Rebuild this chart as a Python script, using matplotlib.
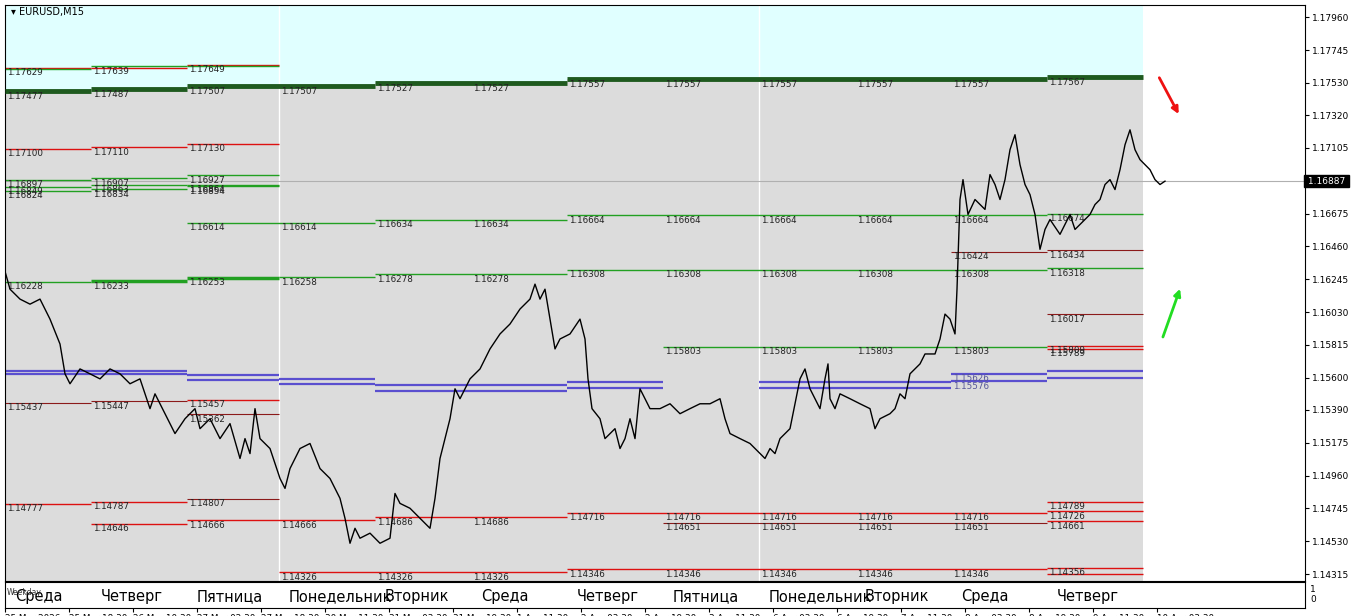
import matplotlib
matplotlib.use("Agg")
import matplotlib.pyplot as plt
from matplotlib.patches import Rectangle, FancyArrowPatch

W, H = 1365, 616
fig = plt.figure(figsize=(W/100, H/100), dpi=100)
fig.patch.set_facecolor("white")

# ---------------- data ----------------
bar_x = [0,5,15,25,35,45,55,60,65,75,85,95,105,115,125,135,145,150,160,170,180,190,195,205,215,225,235,240,245,250,255,265,275,280,285,295,305,315,325,335,340,345,350,355,365,375,385,390,395,405,415,425,430,435,445,450,455,465,475,485,495,505,515,525,530,535,540,545,550,555,565,575,580,583,587,595,600,610,615,620,625,630,635,640,645,655,665,675,685,695,705,715,720,725,735,745,755,760,765,770,775,785,795,800,805,810,815,820,823,825,830,835,845,855,865,870,875,885,890,895,900,905,910,915,920,930,935,940,945,950,952,955,958,963,970,980,985,990,995,1000,1005,1010,1015,1020,1025,1030,1035,1040,1045,1055,1060,1065,1070,1075,1080,1085,1090,1095,1100,1105,1110,1115,1120,1125,1130,1135,1140,1145,1150,1155,1160]
price = [1.16297,1.1618,1.16115,1.16082,1.16115,1.15984,1.15821,1.15626,1.15561,1.15658,1.15626,1.15593,1.15658,1.15626,1.15561,1.15593,1.15398,1.15495,1.15365,1.15235,1.15332,1.15398,1.15267,1.15332,1.15202,1.153,1.15072,1.15202,1.15104,1.15398,1.15202,1.15137,1.14941,1.14876,1.15006,1.15137,1.1517,1.15006,1.14941,1.14811,1.1468,1.14517,1.14615,1.1455,1.14583,1.14517,1.1455,1.14843,1.14778,1.14746,1.1468,1.14615,1.14811,1.15072,1.15332,1.15528,1.15463,1.15593,1.15658,1.15789,1.15887,1.15952,1.1605,1.16115,1.16213,1.16115,1.1618,1.15984,1.15789,1.15854,1.15887,1.15984,1.15854,1.15593,1.15398,1.15332,1.15202,1.15267,1.15137,1.15202,1.15332,1.15202,1.15528,1.15463,1.15398,1.15398,1.1543,1.15365,1.15398,1.1543,1.1543,1.15463,1.15332,1.15235,1.15202,1.1517,1.15104,1.15072,1.15137,1.15104,1.15202,1.15267,1.15593,1.15658,1.15528,1.15463,1.15398,1.15593,1.15691,1.15463,1.15398,1.15495,1.15463,1.1543,1.15398,1.15267,1.15332,1.15365,1.15398,1.15495,1.15463,1.15626,1.15658,1.15691,1.15756,1.15756,1.15854,1.16017,1.15984,1.15887,1.1618,1.16767,1.16897,1.16669,1.16767,1.16702,1.1693,1.16865,1.16767,1.16897,1.17093,1.17191,1.16995,1.16865,1.16799,1.16669,1.16441,1.16571,1.16636,1.16539,1.16604,1.16669,1.16571,1.16604,1.16636,1.16669,1.16734,1.16767,1.16865,1.16897,1.16832,1.16962,1.17125,1.17223,1.17093,1.17028,1.16995,1.16962,1.16897,1.16865,1.16887]

day_bounds = [0,86,182,274,370,466,562,658,754,850,946,1042,1138]
day_names = ["Среда","Четверг","Пятница","Понедельник","Вторник","Среда","Четверг",
             "Пятница","Понедельник","Вторник","Среда","Четверг"]
date_labels = ["25 Mar 2026","25 Mar 18:30","26 Mar 10:30","27 Mar 02:30","27 Mar 18:30",
               "30 Mar 11:30","31 Mar 03:30","31 Mar 19:30","1 Apr 11:30","2 Apr 03:30",
               "2 Apr 19:30","3 Apr 11:30","6 Apr 03:30","6 Apr 19:30","7 Apr 11:30",
               "8 Apr 03:30","8 Apr 19:30","9 Apr 11:30","10 Apr 03:30"]
date_pos = [0,64,128,192,256,320,384,448,512,576,640,704,768,832,896,960,1024,1088,1152]
y_ticks = [1.17960,1.17745,1.17530,1.17320,1.17105,1.16675,1.16460,1.16245,1.16030,
           1.15815,1.15600,1.15390,1.15175,1.14960,1.14745,1.14530,1.14315]
current = 1.16887

# level segments: (first day, last day, price, kind, labelled)
levels = [
    (0,0,1.17629,'r',1),(0,0,1.17623,'g',0),(1,1,1.17639,'g',1),(1,1,1.17629,'r',0),
    (2,2,1.17649,'r',1),(2,2,1.17639,'g',0),
    (0,0,1.17100,'r',1),(1,1,1.17110,'r',1),(2,2,1.17130,'r',1),
    (0,0,1.16897,'g',1),(1,1,1.16907,'g',1),(2,2,1.16927,'g',1),
    (0,0,1.16849,'g',1),(0,0,1.16824,'g',1),(1,1,1.16863,'g',1),(1,1,1.16834,'g',1),
    (2,2,1.16864,'g',1),(2,2,1.16854,'g',1),
    (2,3,1.16614,'g',1),(4,5,1.16634,'g',1),(6,10,1.16664,'g',1),(11,11,1.16674,'g',1),
    (0,0,1.16228,'g',1),(1,1,1.16233,'G',1),(2,2,1.16253,'G',1),(3,3,1.16258,'g',1),
    (4,5,1.16278,'g',1),(6,10,1.16308,'g',1),(11,11,1.16318,'g',1),
    (10,10,1.16424,'d',1),(11,11,1.16434,'d',1),(11,11,1.16017,'d',1),(2,2,1.15362,'d',1),
    (7,10,1.15803,'g',1),(11,11,1.15809,'r',1),(11,11,1.15789,'r',1),
    (0,1,1.15646,'p',0),(0,1,1.15626,'p',0),(2,2,1.15619,'p',0),(2,2,1.15587,'p',0),
    (3,3,1.15593,'p',0),(3,3,1.15561,'p',0),(4,5,1.15554,'p',0),(4,5,1.15515,'p',0),
    (6,6,1.15574,'p',0),(6,6,1.15535,'p',0),(8,9,1.15574,'p',0),(8,9,1.15535,'p',0),
    (10,10,1.15626,'p',1),(10,10,1.15576,'p',1),(11,11,1.15646,'p',0),(11,11,1.15600,'p',0),
    (0,0,1.15437,'d',1),(1,1,1.15447,'d',1),(2,2,1.15457,'r',1),
    (0,0,1.14777,'r',1),(1,1,1.14787,'r',1),(2,2,1.14807,'d',1),
    (11,11,1.14789,'r',1),(11,11,1.14726,'r',1),(11,11,1.14661,'r',1),
    (1,1,1.14646,'r',1),(2,3,1.14666,'r',1),(4,5,1.14686,'r',1),(6,10,1.14716,'r',1),
    (7,10,1.14651,'d',1),
    (3,5,1.14326,'r',1),(6,10,1.14346,'r',1),(11,11,1.14356,'r',1),(11,11,1.14316,'r',0),
]
top_lines = [(0,0,1.17477),(1,1,1.17487),(2,3,1.17507),(4,5,1.17527),(6,10,1.17557),(11,11,1.17567)]

styles = {'r':('#dd1111',1.0),'g':('#22a022',1.0),'G':('#22a022',2.5),
          'd':('#8b1a1a',0.8),'p':('#5a4fcf',1.6)}

# ---------------- main axes ----------------
ymin, ymax = 1.14270, 1.18040
ax = fig.add_axes([5/W, 1-581/H, 1300/W, 576/H])
ax.set_xlim(0, 1300)
ax.set_ylim(ymin, ymax)
ax.set_facecolor("white")

for d0, d1, p in top_lines:
    x0, x1 = day_bounds[d0], day_bounds[d1+1]
    ax.add_patch(Rectangle((x0, p), x1-x0, ymax-p, color='#e0ffff', lw=0, zorder=0))
    ax.add_patch(Rectangle((x0, ymin), x1-x0, p-ymin, color='#dcdcdc', lw=0, zorder=0))
    ax.plot([x0, x1], [p, p], color='#1f5a1f', lw=3.5, zorder=3, solid_capstyle='butt')
    for d in range(d0, d1+1):
        ax.text(day_bounds[d]+2, p-0.00006, f"{p:.5f}", fontsize=6.3, va='top', color='#222', zorder=4)

for xv in [274, 754]:
    ax.axvline(xv, color='white', lw=1, zorder=1)
ax.axhline(current, color='#b0b0b0', lw=0.8, zorder=1)

for d0, d1, p, k, lab in levels:
    c, lw = styles[k]
    x0, x1 = day_bounds[d0], day_bounds[d1+1]
    ax.plot([x0, x1], [p, p], color=c, lw=lw, zorder=2, solid_capstyle='butt')
    if lab:
        for d in range(d0, d1+1):
            ax.text(day_bounds[d]+2, p-0.00003, f"{p:.5f}", fontsize=6.3, va='top',
                    color='#555599' if k == 'p' else '#222', zorder=4)

ax.plot(bar_x, price, color='black', lw=1.0, zorder=5)

ax.add_patch(FancyArrowPatch((1153, 1.17580), (1175, 1.17310), arrowstyle='-|>',
             mutation_scale=10, color='#ee1111', lw=2, zorder=6))
ax.add_patch(FancyArrowPatch((1157, 1.15850), (1176, 1.16200), arrowstyle='-|>',
             mutation_scale=10, color='#22dd22', lw=2, zorder=6))

ax.text(6, ymax-0.00015, "▾ EURUSD,M15", fontsize=7, va='top', family='DejaVu Sans')

ax.yaxis.tick_right()
ax.set_yticks(y_ticks)
ax.set_yticklabels([f"{t:.5f}" for t in y_ticks], fontsize=6.5)
ax.tick_params(axis='y', length=3, pad=2)
ax.set_xticks([])
ax.text(1.0, current, f" {current:.5f} ", transform=ax.get_yaxis_transform(),
        fontsize=6.5, color='white', va='center', ha='left',
        bbox=dict(facecolor='black', edgecolor='black', pad=1))
for s in ax.spines.values():
    s.set_color('black'); s.set_linewidth(0.8)

# ---------------- lower panel ----------------
ax2 = fig.add_axes([5/W, 1-608/H, 1300/W, 26/H])
ax2.set_xlim(0, 1300); ax2.set_ylim(0, 1)
ax2.set_yticks([])
for i, n in enumerate(day_names):
    ax2.text(day_bounds[i]+10, 0.45, n, fontsize=10.5, va='center', ha='left')
ax2.text(2, 0.6, "Weekday", fontsize=5.5, va='center', color='#333')
ax2.set_xticks(date_pos)
ax2.set_xticklabels(date_labels, fontsize=6.3, ha='left')
ax2.tick_params(axis='x', length=3, pad=1)
for s in ax2.spines.values():
    s.set_color('black'); s.set_linewidth(0.8)
fig.text(1310/W, 1-589/H, "1", fontsize=6.5, va='center')
fig.text(1310/W, 1-600/H, "0", fontsize=6.5, va='center')

fig.savefig("out.png", dpi=100)
